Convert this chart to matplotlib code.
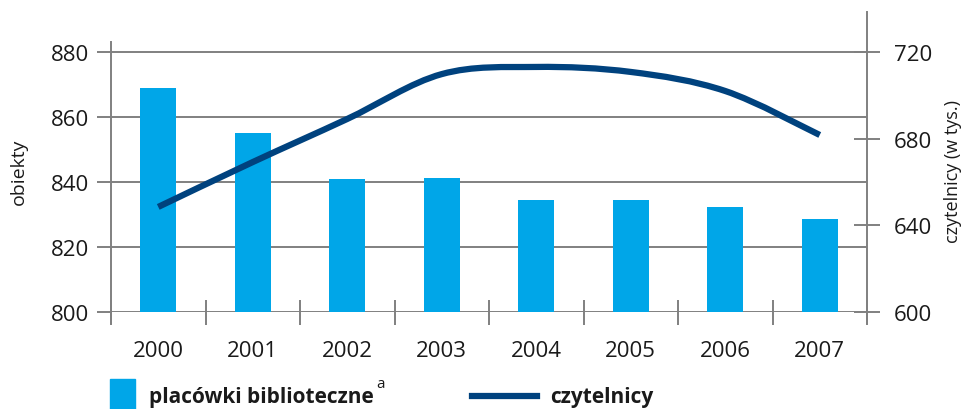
import matplotlib
matplotlib.use("Agg")
import matplotlib.pyplot as plt
import numpy as np
from matplotlib.path import Path
from matplotlib.patches import PathPatch, Rectangle
from matplotlib.lines import Line2D

plt.rcParams['font.family'] = ['Open Sans', 'DejaVu Sans']

years = ['2000', '2001', '2002', '2003', '2004', '2005', '2006', '2007']
placowki = [869, 855, 841, 841.2, 834.5, 834.5, 832.3, 828.6]
czytelnicy = [648.5, 669.2, 689.1, 709.8, 713.1, 710.8, 702.0, 681.7]
left_ticks = [800, 820, 840, 860, 880]
right_ticks = [600, 640, 680, 720]

BAR = '#00A6E8'
LINE = '#00427E'
GRAY = '#808080'
TXT = '#1a1a1a'

fig = plt.figure(figsize=(9.69, 4.10), dpi=100)
ax = fig.add_axes([111/969, 1-313/410, (867-111)/969, (313-13)/410])
ax2 = ax.twinx()

x = np.arange(len(years))
ax.set_xlim(-0.5, len(years)-0.5)
ax.set_ylim(800, 800 + 300/65*20)
ax2.set_ylim(600, 600 + 300/260*120)

for s in list(ax.spines.values()) + list(ax2.spines.values()):
    s.set_visible(False)

# gridlines
for v in left_ticks:
    ax.axhline(v, color=GRAY, lw=1.4, zorder=1)

ax.bar(x, placowki, width=0.38, color=BAR, zorder=2)

# smooth line (Catmull-Rom rendered as cubic Bezier)
px = np.array(x, dtype=float)
py = np.array(czytelnicy, dtype=float)
verts = [(px[0], py[0])]
codes = [Path.MOVETO]
n = len(px)
for i in range(n-1):
    p0 = (px[i-1], py[i-1]) if i > 0 else (px[i], py[i])
    p1 = (px[i], py[i])
    p2 = (px[i+1], py[i+1])
    p3 = (px[i+2], py[i+2]) if i+2 < n else (px[i+1], py[i+1])
    t = 1/6
    c1 = (p1[0] + (p2[0]-p0[0])*t, p1[1] + (p2[1]-p0[1])*t)
    c2 = (p2[0] - (p3[0]-p1[0])*t, p2[1] - (p3[1]-p1[1])*t)
    verts += [c1, c2, p2]
    codes += [Path.CURVE4]*3
ax2.add_patch(PathPatch(Path(verts, codes), fill=False, edgecolor=LINE, lw=4.5,
                        capstyle='butt', zorder=3))

# spines drawn manually (extend below axis)
ybot = 800 - 11/65*20
ax.plot([-0.5, -0.5], [ybot, 800 + 270/65*20], color=GRAY, lw=1.4, clip_on=False, zorder=4)
ax.plot([7.5, 7.5], [ybot, 800 + 300/65*20], color=GRAY, lw=1.4, clip_on=False, zorder=4)

# ticks
ax.set_yticks(left_ticks)
ax.tick_params(axis='y', direction='out', length=10, width=1.4, color=GRAY,
               labelsize=16, pad=6, labelcolor=TXT)
ax2.set_yticks(right_ticks)
ax2.tick_params(axis='y', direction='inout', length=19, width=1.4, color=GRAY,
                labelsize=16, pad=10, labelcolor=TXT)
ax.set_xticks(x)
ax.set_xticklabels(years)
ax.set_xticks(np.arange(-0.5, len(years)), minor=True)
ax.tick_params(axis='x', which='major', length=0, labelsize=16, pad=20, labelcolor=TXT)
ax.tick_params(axis='x', which='minor', direction='inout', length=18, width=1.4, color=GRAY)

ax.set_ylabel('obiekty', fontsize=14, color=TXT)
ax.yaxis.set_label_coords(-(111-28)/756, (313-172)/300)
ax2.set_ylabel('czytelnicy (w tys.)', fontsize=13, color=TXT)
ax2.yaxis.set_label_coords(1 + (944-867)/756, (313-172)/300)

# legend (manual)
fig.patches.append(Rectangle((110/969, 1-410/410), 25/969, 30/410, transform=fig.transFigure,
                             color=BAR, figure=fig))
fig.text(149/969, 1-398/410, 'placówki biblioteczne', fontsize=15, fontweight='bold',
         va='center', ha='left', color=TXT)
fig.text(376/969, 1-385/410, 'a', fontsize=11, va='center', ha='left', color=TXT)
fig.lines.append(Line2D([472/969, 537/969], [1-397/410, 1-397/410], transform=fig.transFigure,
                        color=LINE, lw=4.5, figure=fig))
fig.text(550/969, 1-398/410, 'czytelnicy', fontsize=15, fontweight='bold',
         va='center', ha='left', color=TXT)

fig.savefig('out.png', dpi=100)
